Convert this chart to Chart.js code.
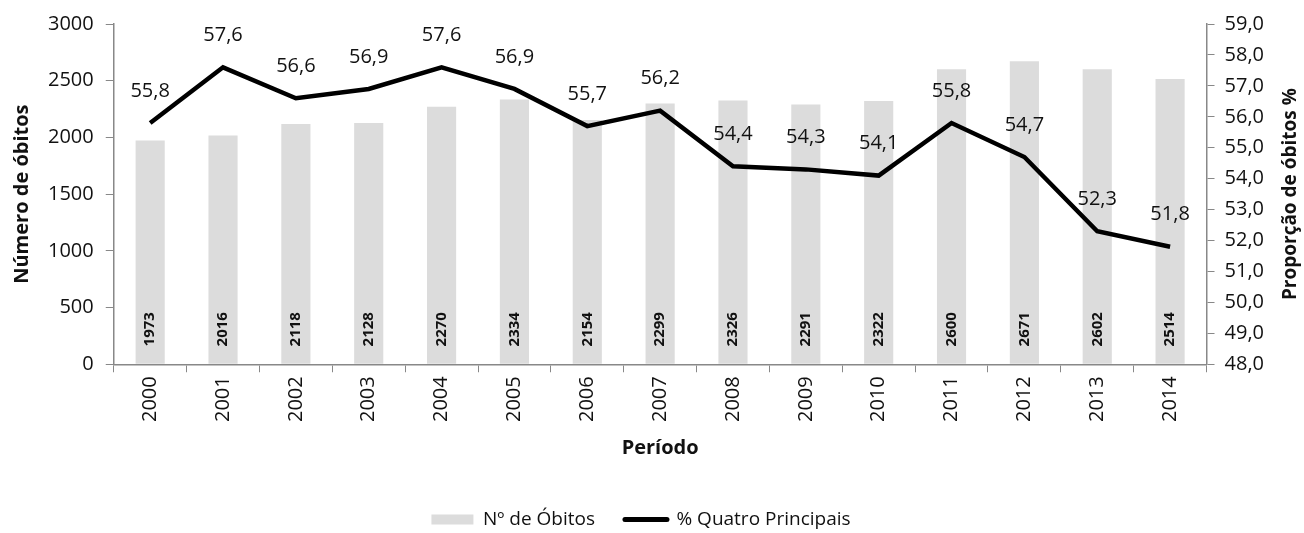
<!DOCTYPE html>
<html>
<head>
<meta charset="utf-8">
<script src="https://cdn.jsdelivr.net/npm/chart.js@4.4.0/dist/chart.umd.min.js"></script>
<style>
  html, body { margin: 0; padding: 0; background: #fff; }
  #wrap { width: 1304px; height: 533px; }
</style>
</head>
<body>
<div id="wrap"><canvas id="grafico"></canvas></div>
<script>
// Dados do gráfico
const anos = ['2000','2001','2002','2003','2004','2005','2006','2007','2008','2009','2010','2011','2012','2013','2014'];
const obitos = [1973, 2016, 2118, 2128, 2270, 2334, 2154, 2299, 2326, 2291, 2322, 2600, 2671, 2602, 2514];
const percentual = [55.8, 57.6, 56.6, 56.9, 57.6, 56.9, 55.7, 56.2, 54.4, 54.3, 54.1, 55.8, 54.7, 52.3, 51.8];

const fonte = '"Open Sans", sans-serif';
const virgula = v => v.toFixed(1).replace('.', ',');

// Rótulos: valores dentro das barras, acima da linha e título do eixo direito
const rotulos = {
  id: 'rotulos',
  afterDatasetsDraw(chart) {
    const ctx = chart.ctx;
    const barras = chart.getDatasetMeta(0);
    const base = chart.scales.y.getPixelForValue(0);
    ctx.save();
    ctx.fillStyle = '#111';
    ctx.font = 'bold 15px ' + fonte;
    ctx.textAlign = 'center';
    ctx.textBaseline = 'middle';
    barras.data.forEach((el, i) => {
      ctx.save();
      ctx.translate(el.x, base - 35);
      ctx.rotate(-Math.PI / 2);
      ctx.fillText(obitos[i], 0, 0);
      ctx.restore();
    });
    const linha = chart.getDatasetMeta(1);
    ctx.font = '20px ' + fonte;
    linha.data.forEach((el, i) => {
      ctx.fillText(virgula(percentual[i]), el.x, el.y - 32);
    });
    // título do eixo direito, lido de baixo para cima
    const area = chart.chartArea;
    ctx.save();
    ctx.translate(1291, (area.top + area.bottom) / 2);
    ctx.rotate(-Math.PI / 2);
    ctx.font = 'bold 19px ' + fonte;
    ctx.fillText('Proporção de óbitos %', 0, 0);
    ctx.restore();
    ctx.restore();
  }
};

new Chart(document.getElementById('grafico'), {
  data: {
    labels: anos,
    datasets: [
      {
        type: 'bar',
        label: 'Nº de Óbitos',
        data: obitos,
        yAxisID: 'y',
        backgroundColor: '#dcdcdc',
        barPercentage: 0.4,
        categoryPercentage: 1.0,
        order: 1
      },
      {
        type: 'line',
        label: '% Quatro Principais',
        data: percentual,
        yAxisID: 'y2',
        borderColor: '#000',
        backgroundColor: '#000',
        borderWidth: 4.5,
        pointRadius: 0,
        tension: 0,
        order: 0
      }
    ]
  },
  options: {
    responsive: true,
    maintainAspectRatio: false,
    animation: false,
    layout: { padding: { left: 8, right: 30, top: 18, bottom: -6 } },
    scales: {
      x: {
        offset: true,
        grid: { offset: true, drawOnChartArea: false, drawTicks: true, tickLength: 8, color: '#888' },
        border: { color: '#888', width: 1.5 },
        ticks: { color: '#111', font: { family: fonte, size: 20 }, maxRotation: 90, minRotation: 90, padding: 4 },
        title: { display: true, text: 'Período', color: '#111', font: { family: fonte, size: 20, weight: 'bold' }, padding: { top: 10, bottom: 20 } }
      },
      y: {
        position: 'left',
        min: 0,
        max: 3000,
        ticks: { stepSize: 500, color: '#111', font: { family: fonte, size: 20 }, padding: 12, callback: v => String(v) },
        grid: { drawOnChartArea: false, drawTicks: true, tickLength: 8, color: '#888' },
        border: { color: '#888', width: 1.5 },
        title: { display: true, text: 'Número de óbitos', color: '#111', font: { family: fonte, size: 20, weight: 'bold' }, padding: 2 }
      },
      y2: {
        position: 'right',
        min: 48,
        max: 59,
        ticks: { stepSize: 1, color: '#111', font: { family: fonte, size: 20 }, padding: 10, callback: v => virgula(v) },
        grid: { drawOnChartArea: false, drawTicks: true, tickLength: 8, color: '#888' },
        border: { color: '#888', width: 1.5 },
        title: { display: false }
      }
    },
    plugins: {
      legend: {
        position: 'bottom',
        labels: {
          color: '#111',
          font: { family: fonte, size: 19 },
          usePointStyle: true,
          pointStyleWidth: 42,
          boxHeight: 10,
          padding: 30,
          generateLabels(chart) {
            return chart.data.datasets.map((ds, i) => ({
              text: ds.label,
              fillStyle: ds.type === 'line' ? '#000' : ds.backgroundColor,
              strokeStyle: '#000',
              lineWidth: ds.type === 'line' ? 5 : 0,
              lineCap: 'round',
              pointStyle: ds.type === 'line' ? 'line' : 'rect',
              fontColor: '#111',
              datasetIndex: i,
              hidden: false
            }));
          }
        }
      },
      tooltip: { enabled: false }
    }
  },
  plugins: [rotulos]
});
</script>
</body>
</html>
